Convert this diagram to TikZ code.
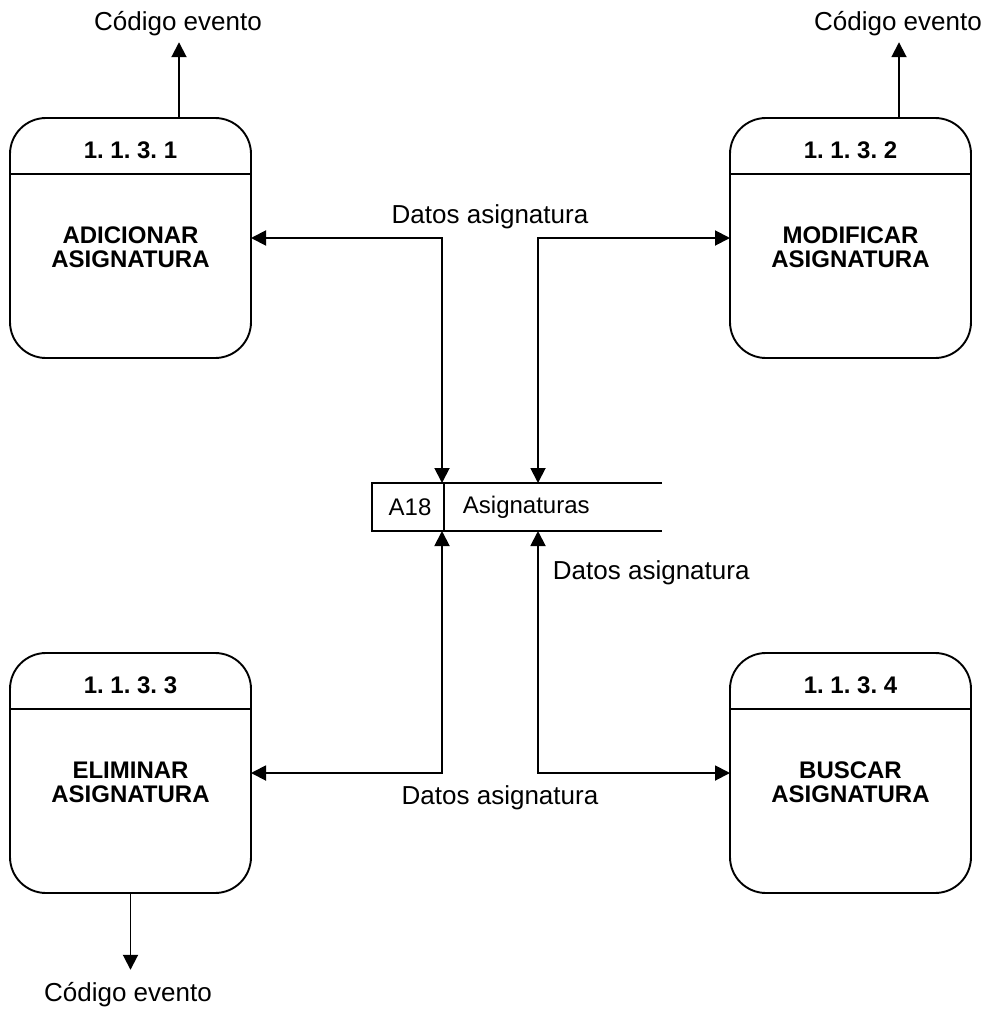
\documentclass[tikz,border=0pt]{standalone}
\usepackage{fontspec}
\setmainfont{Liberation Sans}
\usetikzlibrary{arrows.meta, positioning}
\frenchspacing

\begin{document}
\begin{tikzpicture}[x=0.5pt, y=-0.5pt, >={Triangle[length=7.5pt, width=7.5pt]},
			line width=0.95pt,
			proceso/.style={draw, rounded corners=18pt, minimum width=120.5pt,
				minimum height=120pt, inner sep=0pt, outer sep=0pt},
			titulo/.style={font=\fontsize{12}{14}\selectfont\bfseries},
			nombre/.style={font=\fontsize{12}{12}\selectfont\bfseries, align=center},
			flujo/.style={font=\fontsize{13}{15}\selectfont, inner sep=0pt}]
			
			\useasboundingbox (0,0) rectangle (990,1012);
			
			% Procesi ai vertici di un quadrato
			\node[proceso] (p1) at (130.5,238) {};
			\node[proceso] (p2) at (850.5,238) {};
			\node[proceso] (p3) at (130.5,773) {};
			\node[proceso] (p4) at (850.5,773) {};
			\foreach \p in {p1,p2,p3,p4}
				\draw ([yshift=-28pt]\p.north west) -- ([yshift=-28pt]\p.north east);
			
			\node[titulo] (t1) at ([yshift=-16pt]p1.north) {1. 1. 3. 1};
			\node[titulo] (t2) at ([yshift=-16pt]p2.north) {1. 1. 3. 2};
			\node[titulo] (t3) at ([yshift=-16pt]p3.north) {1. 1. 3. 3};
			\node[titulo] (t4) at ([yshift=-16pt]p4.north) {1. 1. 3. 4};
			
			\node[nombre] (n1) at ([yshift=-4.5pt]p1.center) {ADICIONAR\\ASIGNATURA};
			\node[nombre] (n2) at ([yshift=-4.5pt]p2.center) {MODIFICAR\\ASIGNATURA};
			\node[nombre] (n3) at ([yshift=-4.5pt]p3.center) {ELIMINAR\\ASIGNATURA};
			\node[nombre] (n4) at ([yshift=-4.5pt]p4.center) {BUSCAR\\ASIGNATURA};
			
			% Almacen A18
			\node[minimum width=145pt, minimum height=24pt, inner sep=0pt, outer sep=0pt] (alm) at (517,507) {};
			\draw (alm.north east) -- (alm.north west) -- (alm.south west) -- (alm.south east);
			\draw ([xshift=36pt]alm.north west) -- ([xshift=36pt]alm.south west);
			\node[font=\fontsize{12}{14}\selectfont] (id) at (410,507) {A18};
			\node[font=\fontsize{12}{14}\selectfont, anchor=west, inner sep=0pt] (nom) at (462,507) {Asignaturas};
			
			\coordinate (e1) at ([xshift=35pt]alm.north west);
			\coordinate (e2) at ([xshift=83pt]alm.north west);
			\coordinate (s1) at ([xshift=35pt]alm.south west);
			\coordinate (s2) at ([xshift=83pt]alm.south west);
			
			% --- Flussi di dati ---
			\draw[<->] (p1.east) -| (e1);
			\draw[<->] (p2.west) -| (e2);
			\draw[<->] (p3.east) -| (s1);
			\draw[<->] (p4.west) -| (s2);
			
			\node[flujo] (d1) at (490,217) {Datos asignatura};
			\node[flujo, anchor=west] (d2) at (552,573) {Datos asignatura};
			\node[flujo] (d3) at (500,798) {Datos asignatura};
			
			% Codici evento
			\node[flujo, inner ysep=2.5pt] (c1) at (178,24) {Código evento};
			\node[flujo, inner ysep=2.5pt] (c2) at (898,24) {Código evento};
			\node[flujo, inner ysep=6pt] (c3) at (128,995) {Código evento};
			\coordinate (u1) at ([xshift=24.25pt]p1.north);
			\coordinate (u2) at ([xshift=24.25pt]p2.north);
			\draw[->] (u1) -- (u1 |- c1.south);
			\draw[->] (u2) -- (u2 |- c2.south);
			\draw[->] (p3.south) -- (p3.south |- c3.north);
		\end{tikzpicture}
\end{document}
